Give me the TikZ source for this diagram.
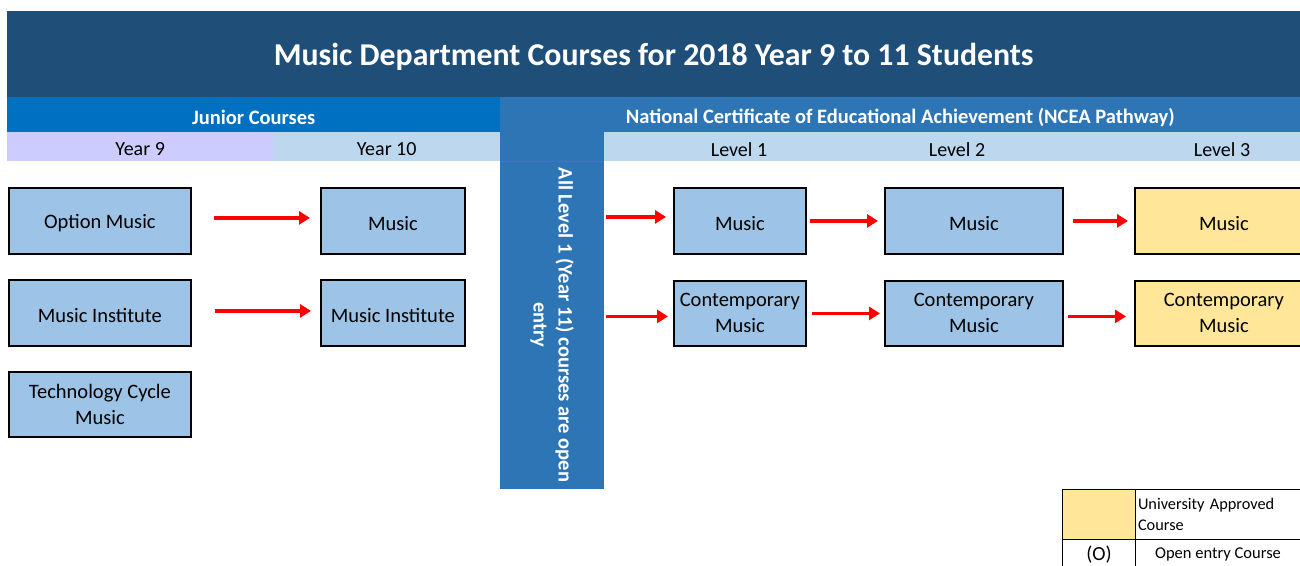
\documentclass[tikz,border=0pt]{standalone}
\usepackage{fontspec}
\setmainfont{Carlito}
\usetikzlibrary{arrows.meta}
\definecolor{titlebg}{HTML}{1F4E79}
\definecolor{juniorbg}{HTML}{0070C0}
\definecolor{nceabg}{HTML}{2E75B6}
\definecolor{yearnine}{HTML}{CCCCFF}
\definecolor{lightrow}{HTML}{BDD7EE}
\definecolor{boxfill}{HTML}{9DC3E6}
\definecolor{uniyellow}{HTML}{FFE699}
\definecolor{edgeline}{HTML}{4472C4}
\newcommand{\dropText}[1]{\raisebox{-2.5pt}[\height][\depth]{#1}}
\tikzset{
  band/.style={inner sep=0pt, anchor=north west, text=white, font=\bfseries\fontsize{20.5}{24}\selectfont},
  rowcell/.style={inner sep=0pt, anchor=north west, font=\fontsize{20}{24}\selectfont},
  course/.style={draw=black, line width=1.8pt, fill=boxfill, inner sep=0pt, anchor=north west,
    minimum height=66pt, align=center, font=\fontsize{20.5}{26}\selectfont},
  uni/.style={course, fill=uniyellow},
  flow/.style={draw=red, line width=3.5pt, -{Triangle[length=11pt,width=13pt]}},
}
\begin{document}
\begin{tikzpicture}[x=1pt,y=-1pt]
\useasboundingbox (0,0) rectangle (1300,565);
\clip (0,0) rectangle (1300,565);
% title
\node[band, fill=titlebg, minimum width=1293pt, minimum height=86pt, font=\bfseries\fontsize{31.8}{36}\selectfont] (title) at (7,11) {\dropText{Music Department Courses for 2018 Year 9 to 11 Students}};
% header bands
\node[band, fill=juniorbg, minimum width=493pt, minimum height=35pt] (junior) at (7,97) {\dropText{Junior Courses}};
\node[band, fill=nceabg, minimum width=800pt, minimum height=35pt] (ncea) at (500,97) {\dropText{National Certificate of Educational Achievement (NCEA Pathway)}};
% row of years / levels
\node[rowcell, fill=yearnine, minimum width=266pt, minimum height=29pt] (y9) at (7,132) {\dropText{Year 9}};
\node[rowcell, fill=lightrow, minimum width=227pt, minimum height=29pt] (y10) at (273,132) {\dropText{Year 10}};
\node[rowcell, fill=lightrow, minimum width=696pt, minimum height=29pt] (lvrow) at (604,132) {};
\node[font=\fontsize{20}{24}\selectfont, inner sep=0pt] (lv1) at (739,147) {\dropText{Level 1}};
\node[font=\fontsize{20}{24}\selectfont, inner sep=0pt] (lv2) at (957,147) {\dropText{Level 2}};
\node[font=\fontsize{20}{24}\selectfont, inner sep=0pt] (lv3) at (1222,147) {\dropText{Level 3}};
% vertical bar
\node[inner sep=0pt, anchor=north west, fill=nceabg, minimum width=104pt, minimum height=357pt] (bar) at (500,132) {};
\draw[edgeline, line width=1pt] (500,161) -- (604,161);
\node[rotate=-90, text=white, align=center, font=\bfseries\fontsize{20.5}{25}\selectfont] (bartext) at (552,325) {All Level 1 (Year 11) courses are open\\entry};
% junior boxes
\node[course, minimum width=182pt] (opt) at (8,187) {\dropText{Option Music}};
\node[course, minimum width=144pt] (mus10) at (320,187) {\dropText{Music}};
\node[course, minimum width=182pt] (inst9) at (8,279) {\dropText{Music Institute}};
\node[course, minimum width=144pt] (inst10) at (320,279) {\dropText{Music Institute}};
\node[course, minimum width=182pt, minimum height=65pt] (tech) at (8,371) {Technology Cycle\\Music};
% NCEA boxes
\node[course, minimum width=132pt] (l1m) at (673,187) {\dropText{Music}};
\node[course, minimum width=132pt, minimum height=65pt] (l1c) at (673,280) {Contemporary\\Music};
\node[course, minimum width=178pt] (l2m) at (884,187) {\dropText{Music}};
\node[course, minimum width=178pt, minimum height=65pt] (l2c) at (884,280) {Contemporary\\Music};
\node[uni, minimum width=178pt] (l3m) at (1134,187) {\dropText{Music}};
\node[uni, minimum width=178pt, minimum height=65pt] (l3c) at (1134,280) {Contemporary\\Music};
% arrows
\draw[flow, shorten <=22pt, shorten >=10pt] (opt.east) ++(0,-3) coordinate (a1) (a1) -- (a1 -| mus10.west);
\draw[flow, shorten <=23pt, shorten >=9pt] (inst9.east) ++(0,-2) coordinate (a2) (a2) -- (a2 -| inst10.west);
\draw[flow, shorten <=2pt, shorten >=7pt] (bar.east |- l1m.west) ++(0,-4) coordinate (a3) (a3) -- (a3 -| l1m.west);
\draw[flow, shorten <=2pt, shorten >=5pt] (bar.east |- l1c.west) ++(0,3) coordinate (a4) (a4) -- (a4 -| l1c.west);
\draw[flow, shorten <=3pt, shorten >=6pt] (l1m.east) -- (l2m.west);
\draw[flow, shorten <=5pt, shorten >=4pt] (l1c.east) -- (l2c.west);
\draw[flow, shorten <=9pt, shorten >=6pt] (l2m.east) -- (l3m.west);
\draw[flow, shorten <=4pt, shorten >=8pt] (l2c.east) ++(0,3) coordinate (a5) (a5) -- (a5 -| l3c.west);
% legend
\node[draw=black, line width=1pt, fill=uniyellow, inner sep=0pt, anchor=north west, minimum width=73pt, minimum height=50pt] (legy) at (1062,489) {};
\node[draw=black, line width=1pt, inner sep=2pt, anchor=north west, minimum width=165pt, minimum height=50pt, text width=160pt, align=left, font=\fontsize{16.3}{21}\selectfont] (legyt) at (1135,489) {University Approved\\Course};
\node[draw=black, line width=1pt, inner sep=0pt, anchor=north west, minimum width=73pt, minimum height=30pt, font=\fontsize{20}{22}\selectfont] (lego) at (1062,539) {(O)};
\node[draw=black, line width=1pt, inner sep=0pt, anchor=north west, minimum width=165pt, minimum height=30pt, font=\fontsize{16.5}{20}\selectfont] (legot) at (1135,539) {Open entry Course};
\end{tikzpicture}
\end{document}
